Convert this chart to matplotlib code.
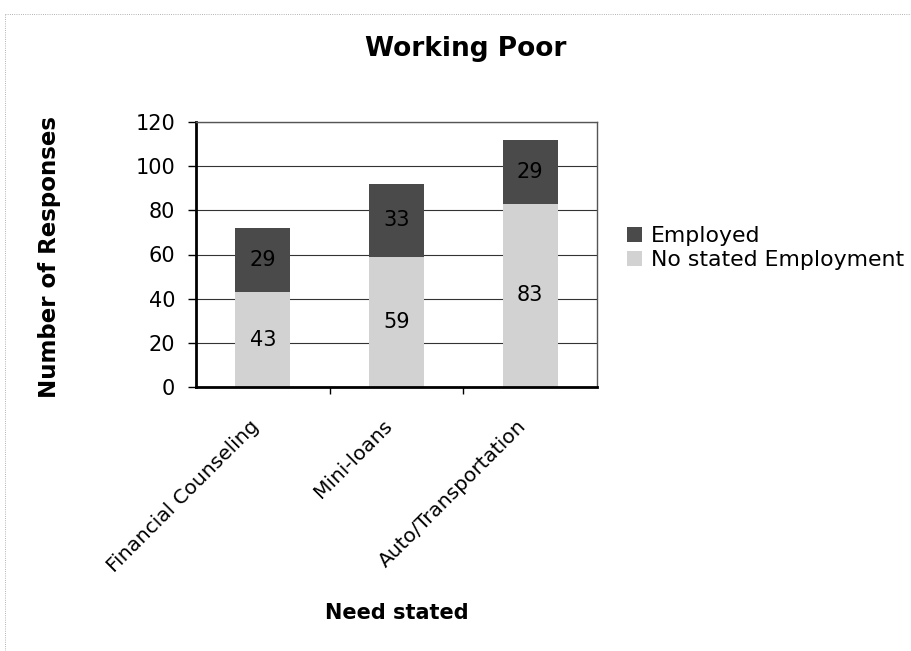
import numpy as np
import matplotlib
matplotlib.use("Agg")
import matplotlib.pyplot as plt
from matplotlib.lines import Line2D
from matplotlib.transforms import ScaledTranslation

# data
categories = ["Financial Counseling", "Mini-loans", "Auto/Transportation"]
no_stated = [43, 59, 83]
employed = [29, 33, 29]
series_names = ["Employed", "No stated Employment"]
y_ticks = [0, 20, 40, 60, 80, 100, 120]

plt.rcParams['font.family'] = ['DejaVu Sans']
plt.rcParams['hatch.color'] = '#b8b8b8'
plt.rcParams['hatch.linewidth'] = 0.4

fig = plt.figure(figsize=(9.12, 6.51), dpi=100)
ax = fig.add_axes([196/912, 1-387/651, 401/912, 265/651])

x = np.arange(len(categories))
bw = 0.41
b_light = ax.bar(x, no_stated, bw, color='#d2d2d2', edgecolor='none',
                 hatch='...', zorder=2, label=series_names[1])
b_dark = ax.bar(x, employed, bw, bottom=no_stated, color='#4a4a4a',
                edgecolor='none', zorder=2, label=series_names[0])

ax.bar_label(b_light, labels=[str(v) for v in no_stated], label_type='center',
             fontsize=15, color='black', zorder=3)
ax.bar_label(b_dark, labels=[str(v) for v in employed], label_type='center',
             fontsize=15, color='black', zorder=3)

ax.set_ylim(0, 120)
ax.set_yticks(y_ticks)
ax.set_xlim(-0.5, len(categories) - 0.5)
ax.yaxis.grid(True, color='#333333', lw=0.8, zorder=1)
ax.set_axisbelow(True)

# Excel style: tick marks between categories, labels at centers
ax.set_xticks(np.arange(0.5, len(categories) - 1), labels=[''] * (len(categories) - 1))
ax.set_xticks(x, labels=categories, minor=True)
ax.tick_params(axis='x', which='major', length=5, width=1, direction='out')
ax.tick_params(axis='x', which='minor', length=0, pad=26, labelsize=14.5)
ax.tick_params(axis='y', length=6, width=1, pad=9, labelsize=15)
off = ScaledTranslation(-0.07, 0, fig.dpi_scale_trans)
for lab in ax.get_xticklabels(minor=True):
    lab.set_rotation(45)
    lab.set_ha('right')
    lab.set_va('center')
    lab.set_rotation_mode('anchor')
    lab.set_transform(lab.get_transform() + off)

for s in ['left', 'bottom']:
    ax.spines[s].set_linewidth(2)
    ax.spines[s].set_color('black')
for s in ['top', 'right']:
    ax.spines[s].set_linewidth(1)
    ax.spines[s].set_color('#555555')

ax.set_ylabel('Number of Responses', fontsize=16.5, fontweight='bold')
ax.yaxis.set_label_coords((50-196)/401, 0.49)
ax.yaxis.label.set_va('center')
ax.set_xlabel('Need stated', fontsize=15, fontweight='bold')
ax.xaxis.set_label_coords(0.5, (387-613)/265)
ax.xaxis.label.set_va('center')

fig.text(466/912, 1-49/651, 'Working Poor', fontsize=19, fontweight='bold',
         ha='center', va='center')

ax.legend([b_dark, b_light], series_names, loc='upper left',
          bbox_to_anchor=(627/912, 1-226/651), bbox_transform=fig.transFigure,
          frameon=False, fontsize=15.8, handlelength=0.7, handleheight=0.7,
          handletextpad=0.4, labelspacing=0.2, borderpad=0, borderaxespad=0)

# faint scanned page edges
fig.add_artist(Line2D([5/912, 5/912], [0, 1-14/651], transform=fig.transFigure,
                      color='#999999', lw=0.6, ls=':'))
fig.add_artist(Line2D([5/912, 1], [1-14/651, 1-14/651], transform=fig.transFigure,
                      color='#999999', lw=0.6, ls=':'))

fig.savefig('out.png', dpi=100)
